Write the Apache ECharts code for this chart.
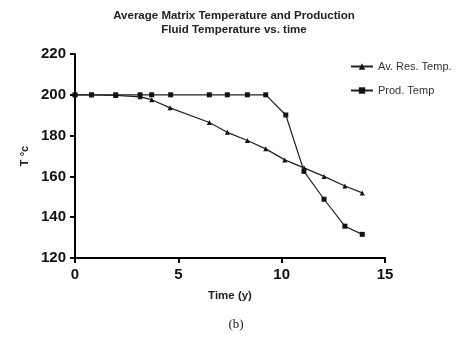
<!DOCTYPE html>
<html><head><meta charset="utf-8">
<script src="https://cdn.jsdelivr.net/npm/echarts@6/dist/echarts.min.js"></script>
<style>html,body{margin:0;padding:0;background:#fff}#c{width:472px;height:339px}</style>
</head><body><div id="c"></div>
<script>
var resTime = [0, 0.8, 1.97, 3.15, 3.71, 4.6, 6.5, 7.37, 8.34, 9.23, 10.15, 11.08, 12.05, 13.06, 13.9];
var resTemp = [200, 200, 199.7, 199, 197.6, 193.6, 186.4, 181.6, 177.6, 173.5, 168.1, 164.2, 160, 155.3, 151.9];
var prodTime = [0, 0.8, 1.97, 3.15, 3.71, 4.63, 6.5, 7.37, 8.34, 9.23, 10.2, 11.08, 12.05, 13.06, 13.9];
var prodTemp = [200, 200, 200, 200, 200, 200, 200, 200, 200, 200, 190.1, 162.5, 148.8, 135.6, 131.6];
var xTicks = [0, 5, 10, 15];
var yTicks = [120, 140, 160, 180, 200, 220];

function pairs(xs, ys){ return xs.map(function(x,i){return [x, ys[i]];}); }

var chart = echarts.init(document.getElementById('c'), null, {renderer:'canvas'});
var axisCommon = {
  axisLine:{show:true, lineStyle:{color:'#000', width:2}},
  axisTick:{show:true, inside:false, length:5, lineStyle:{color:'#000', width:2}},
  splitLine:{show:false},
  axisLabel:{color:'#111', fontFamily:'Liberation Sans, Arial', fontWeight:'bold', fontSize:15}
};
chart.setOption({
  animation:false,
  backgroundColor:'#fff',
  title:{
    text:'Average Matrix Temperature and Production\nFluid Temperature vs. time',
    left:229, textAlign:'center', top:4,
    textStyle:{fontFamily:'Liberation Sans, Arial', fontWeight:'bold', fontSize:11.5, lineHeight:14, color:'#222'}
  },
  graphic:[{type:'text', left:'center', top:318, style:{text:'(b)', font:'13px "Liberation Serif", "Times New Roman", serif', fill:'#222'}}],
  legend:{
    orient:'vertical', left:345, top:56, itemWidth:22, itemHeight:8, itemGap:13,
    textStyle:{fontFamily:'Liberation Sans, Arial', fontSize:11, color:'#333'},
    data:['Av. Res. Temp.','Prod. Temp']
  },
  grid:{left:75, right:87, top:54, bottom:81, containLabel:false},
  xAxis:Object.assign({}, axisCommon, {
    type:'value', min:xTicks[0], max:xTicks[xTicks.length-1], interval:5,
    name:'Time (y)', nameLocation:'middle', nameGap:32,
    nameTextStyle:{fontFamily:'Liberation Sans, Arial', fontWeight:'bold', fontSize:11.5, color:'#222'},
    axisLabel:Object.assign({}, axisCommon.axisLabel, {margin:9})
  }),
  yAxis:Object.assign({}, axisCommon, {
    type:'value', min:yTicks[0], max:yTicks[yTicks.length-1], interval:20,
    name:'T °c', nameLocation:'middle', nameGap:45, nameRotate:90,
    nameTextStyle:{fontFamily:'Liberation Sans, Arial', fontWeight:'bold', fontSize:11, color:'#222'},
    axisLabel:Object.assign({}, axisCommon.axisLabel, {margin:9})
  }),
  series:[
    {name:'Av. Res. Temp.', type:'line', data:pairs(resTime, resTemp), symbol:'triangle', symbolSize:5,
     lineStyle:{color:'#222', width:1.2}, itemStyle:{color:'#111'}, z:3},
    {name:'Prod. Temp', type:'line', data:pairs(prodTime, prodTemp), symbol:'rect', symbolSize:5,
     lineStyle:{color:'#222', width:1.2}, itemStyle:{color:'#111'}, z:4}
  ]
});
</script></body></html>
